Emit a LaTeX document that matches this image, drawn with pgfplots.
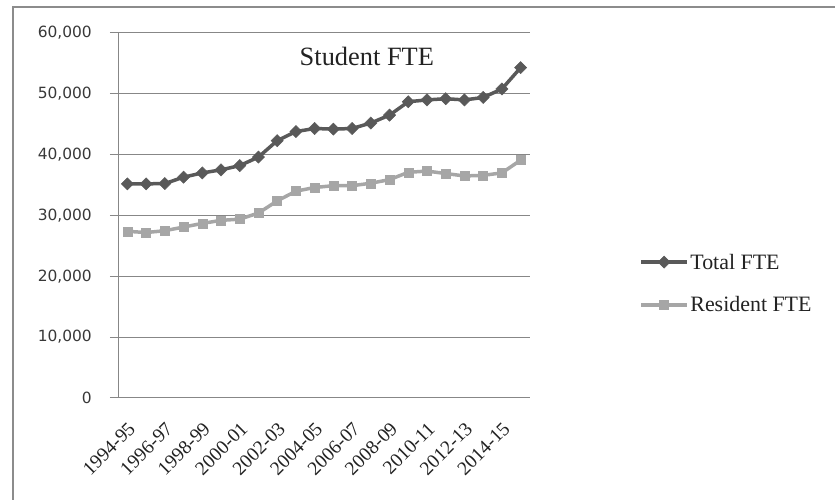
\documentclass[border=0pt]{standalone}
\usepackage{fontspec}
\setmainfont{Liberation Serif}
\newfontfamily\tickfont{DejaVu Sans}
\usepackage{pgfplots}
\usepackage{pgfplotstable}
\pgfplotsset{compat=1.18}

\definecolor{totalc}{HTML}{595959}
\definecolor{residc}{HTML}{A6A6A6}
\definecolor{gridc}{HTML}{878787}
\definecolor{framec}{HTML}{8C8C8C}
\definecolor{textc}{HTML}{222222}

% Student FTE by academic year
\pgfplotstableread{
idx year    total resident
0   1994-95 35200 27400
1   1995-96 35200 27200
2   1996-97 35250 27500
3   1997-98 36300 28100
4   1998-99 37000 28700
5   1999-00 37500 29200
6   2000-01 38200 29400
7   2001-02 39600 30400
8   2002-03 42300 32400
9   2003-04 43800 34000
10  2004-05 44300 34600
11  2005-06 44200 34900
12  2006-07 44300 34900
13  2007-08 45200 35300
14  2008-09 46500 35900
15  2009-10 48700 37100
16  2010-11 49000 37300
17  2011-12 49200 36900
18  2012-13 49000 36500
19  2013-14 49400 36600
20  2014-15 50800 37000
21  2015-16 54300 39100
}\fte

\tikzset{yearlabel/.style={font=\fontsize{19.5}{21}\selectfont, text=textc,
  inner sep=0pt, rotate=45, anchor=east}}

\begin{document}
\begin{tikzpicture}
\begin{axis}[
  at={(118bp,102bp)}, anchor=south west,
  scale only axis, width=412bp, height=365bp,
  xmin=-0.5, xmax=21.5, ymin=0, ymax=60000,
  axis lines*=left,
  axis line style={draw=gridc, line width=1bp, -},
  tick align=outside,
  major tick length=8bp, minor tick length=7bp,
  xtick=\empty,
  minor xtick={-0.5,0.5,...,21.5},
  minor x tick style={draw=gridc, line width=1bp},
  ytick={0,10000,...,60000},
  major y tick style={draw=gridc, line width=1bp},
  ymajorgrids,
  major grid style={draw=gridc, line width=1bp},
  scaled y ticks=false,
  /pgf/number format/.cd, fixed, 1000 sep={,}, assume math mode=true,
  /pgfplots/.cd,
  yticklabel style={font=\tickfont\fontsize{15.5}{17}\selectfont, text=textc!90, inner sep=0pt, xshift=-18bp},
  clip=false,
  legend style={draw=none, fill=none, inner sep=0pt,
    at={(axis description cs:1.265,0.3137)}, anchor=west,
    font=\fontsize{22}{24}\selectfont, text=textc,
    row sep=24bp, nodes={inner xsep=1.5bp, inner ysep=1bp}},
  legend cell align=left,
  legend image code/.code={\draw[mark repeat=2, mark phase=2, #1] plot coordinates {(0bp,0bp) (23bp,0bp) (46bp,0bp)};},
]
\addplot[color=totalc, line width=3.5bp, mark=square*, mark size=4.3bp,
  mark options={rotate=45, solid, line width=0.5bp}] table[x=idx, y=total] {\fte};
\addlegendentry{Total FTE}
\addplot[color=residc, line width=3.5bp, mark=square*, mark size=4.5bp,
  mark options={solid, line width=0.5bp}] table[x=idx, y=resident] {\fte};
\addlegendentry{Resident FTE}
\node[font=\fontsize{26.5}{28}\selectfont, text=textc] at (axis description cs:0.604,0.937) {Student FTE};
% category labels, every second year, slanted under the axis
\node[yearlabel] at ([xshift=4.6bp,yshift=-27.6bp]axis cs:0,0) {1994-95};
\node[yearlabel] at ([xshift=4.6bp,yshift=-27.6bp]axis cs:2,0) {1996-97};
\node[yearlabel] at ([xshift=4.6bp,yshift=-27.6bp]axis cs:4,0) {1998-99};
\node[yearlabel] at ([xshift=4.6bp,yshift=-27.6bp]axis cs:6,0) {2000-01};
\node[yearlabel] at ([xshift=4.6bp,yshift=-27.6bp]axis cs:8,0) {2002-03};
\node[yearlabel] at ([xshift=4.6bp,yshift=-27.6bp]axis cs:10,0) {2004-05};
\node[yearlabel] at ([xshift=4.6bp,yshift=-27.6bp]axis cs:12,0) {2006-07};
\node[yearlabel] at ([xshift=4.6bp,yshift=-27.6bp]axis cs:14,0) {2008-09};
\node[yearlabel] at ([xshift=4.6bp,yshift=-27.6bp]axis cs:16,0) {2010-11};
\node[yearlabel] at ([xshift=4.6bp,yshift=-27.6bp]axis cs:18,0) {2012-13};
\node[yearlabel] at ([xshift=4.6bp,yshift=-27.6bp]axis cs:20,0) {2014-15};
\end{axis}
% chart area border
\draw[framec, line width=2bp] (13bp,-20bp) -- (13bp,493bp) -- (860bp,493bp);
\pgfresetboundingbox
\path[use as bounding box] (0,0) rectangle (835bp,500bp);
\end{tikzpicture}
\end{document}
